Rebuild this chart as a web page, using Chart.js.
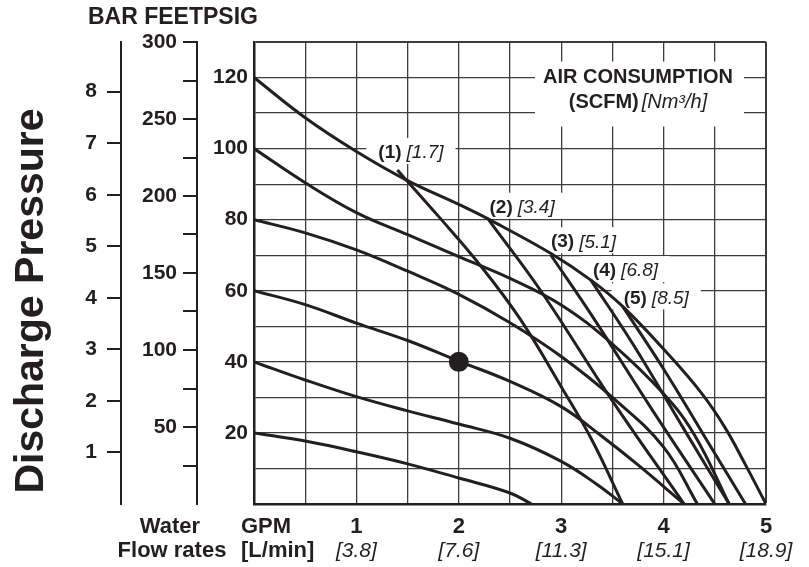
<!DOCTYPE html>
<html>
<head>
<meta charset="utf-8">
<script src="https://cdn.jsdelivr.net/npm/chart.js@4.4.1/dist/chart.umd.min.js"></script>
<style>
  html, body { margin: 0; padding: 0; background: #fff; }
  #wrap { width: 809px; height: 567px; }
</style>
</head>
<body>
<div id="wrap"><canvas id="pump-curve" width="809" height="567"></canvas></div>
<script>
// discharge pressure (PSIG) against water flow (GPM), one curve per air inlet pressure
const head120 = [[0, 120], [0.5, 108.7], [1.0, 99.2], [1.5, 91], [2.0, 84.3], [2.3, 80], [2.9, 70.5], [3.29, 63], [3.6, 55.6], [4.05, 42], [4.37, 31.2], [4.6, 21.5], [4.8, 11], [5.0, 0]]
const head100 = [[0, 100], [0.5, 90.4], [1.0, 82], [1.5, 75.8], [2.0, 69.6], [2.5, 63.5], [3.0, 56], [3.5, 45], [4.0, 31], [4.3, 19.5], [4.64, 0]]
const head80 = [[0, 80], [0.5, 76.3], [1.0, 71.5], [1.5, 65.5], [2.0, 59], [2.5, 51], [3.0, 41.5], [3.5, 30], [4.0, 16], [4.33, 0]]
const head60 = [[0, 60], [0.5, 56.1], [1.0, 50.9], [1.5, 46], [2.0, 40.2], [2.5, 34.5], [3.0, 27.4], [3.4, 19], [3.75, 11], [4.2, 0]]
const head40 = [[0, 40], [0.5, 34.9], [1.0, 30.2], [1.5, 26.2], [2.0, 22.5], [2.5, 18.5], [3.0, 12], [3.35, 5.5], [3.6, 0]]
const head20 = [[0, 20], [0.5, 17.7], [1.0, 14.7], [1.5, 11.3], [2.0, 7.3], [2.5, 3.1], [2.71, 0]]

// constant air consumption lines
const air1 = [[1.40, 94], [1.8, 81], [2.2, 67.5], [2.6, 52], [3.0, 33], [3.3, 18], [3.6, 0]]
const air2 = [[2.29, 80], [2.8, 60], [3.5, 29], [4.2, 0]]
const air3 = [[2.9, 70], [3.3, 53], [3.9, 26], [4.5, 0]]
const air4 = [[3.29, 63], [3.7, 45], [4.2, 21], [4.64, 0]]
const air5 = [[3.6, 55.6], [4.0, 38], [4.4, 19], [4.8, 0]]
const airScfm = ['(1)', '(2)', '(3)', '(4)', '(5)']
const airNm3h = ['[1.7]', '[3.4]', '[5.1]', '[6.8]', '[8.5]']

const examplePoint = [[2, 40]]

const gpmTicks = [1, 2, 3, 4, 5]
const lpmTicks = ['[3.8]', '[7.6]', '[11.3]', '[15.1]', '[18.9]']
const psiTicks = [20, 40, 60, 80, 100, 120]
const feetTicks = [50, 100, 150, 200, 250, 300]
const barTicks = [1, 2, 3, 4, 5, 6, 7, 8]

const ink = '#231f20'
const gridColor = '#3c3c3c'
const sans = '"Liberation Sans", Arial, sans-serif'
const PSI_PER_BAR = 14.5038

const headCurves = [head120, head100, head80, head60, head40, head20]
const airLines = [air1, air2, air3, air4, air5]

const toXY = pts => pts.map(([x, y]) => ({ x, y }))

const curveSet = pts => ({
    data: toXY(pts),
    showLine: true,
    borderColor: ink,
    borderWidth: 3,
    pointRadius: 0,
    tension: 0.4,
})

// where each air label sits relative to the start of its line
const airLabelOffsets = [[-19, -17], [1, -12], [0, -13], [2, -9], [1, -8]]

const runsWidth = (ctx, runs, gap) => {
    let w = 0
    runs.forEach(([text, font], i) => {
        ctx.font = font
        w += ctx.measureText(text).width + (i ? gap : 0)
    })
    return w
}

const drawRuns = (ctx, runs, x, y, gap) => {
    ctx.textAlign = 'left'
    ctx.textBaseline = 'middle'
    runs.forEach(([text, font]) => {
        ctx.font = font
        ctx.fillText(text, x, y)
        x += ctx.measureText(text).width + gap
    })
}

const airRuns = i => [[airScfm[i], 'bold 19px ' + sans], [airNm3h[i], 'italic 19px ' + sans]]
const headingRuns = [['(SCFM)', 'bold 20px ' + sans], ['[Nm³/h]', 'italic 20px ' + sans]]

const labelAt = (chart, i) => {
    const { x, y } = chart.scales
    const start = airLines[i][0]
    return [x.getPixelForValue(start[0]) + airLabelOffsets[i][0], y.getPixelForValue(start[1]) + airLabelOffsets[i][1]]
}

const overlay = {
    id: 'overlay',
    beforeDatasetsDraw(chart) {
        const { ctx, scales: { x, y } } = chart
        ctx.save()
        ctx.fillStyle = '#fff'
        airLines.forEach((line, i) => {
            const [lx, ly] = labelAt(chart, i)
            const w = runsWidth(ctx, airRuns(i), 5)
            ctx.fillRect(lx - 12, ly - 15, w + 24, 26)
        })
        // box behind the air consumption heading
        const cx = x.getPixelForValue(3.75)
        const cy = y.getPixelForValue(120)
        ctx.font = 'bold 20px ' + sans
        const w1 = ctx.measureText('AIR CONSUMPTION').width
        ctx.fillRect(cx - w1 / 2 - 8, cy - 16, w1 + 19, 65)
        ctx.restore()
    },
    afterDatasetsDraw(chart) {
        const { ctx, scales: { x, y } } = chart
        ctx.save()
        ctx.fillStyle = ink
        airLines.forEach((line, i) => {
            const [lx, ly] = labelAt(chart, i)
            drawRuns(ctx, airRuns(i), lx, ly, 5)
        })
        const cx = x.getPixelForValue(3.75)
        const cy = y.getPixelForValue(120)
        ctx.font = 'bold 20px ' + sans
        ctx.textAlign = 'center'
        ctx.textBaseline = 'middle'
        ctx.fillText('AIR CONSUMPTION', cx, cy)
        const w2 = runsWidth(ctx, headingRuns, 3)
        drawRuns(ctx, headingRuns, cx - w2 / 2, cy + 25, 3)
        ctx.restore()
    },
    afterDraw(chart) {
        const { ctx, chartArea } = chart
        const left = chartArea.left
        ctx.save()
        ctx.fillStyle = ink
        ctx.textBaseline = 'middle'

        ctx.font = 'bold 23px ' + sans
        ctx.textAlign = 'left'
        ctx.fillText('BAR FEETPSIG', left - 166, 18)

        ctx.font = 'bold 22px ' + sans
        ctx.textAlign = 'center'
        ctx.fillText('Water', left - 84, 527)
        ctx.fillText('Flow rates', left - 82, 551)
        ctx.textAlign = 'left'
        ctx.fillText('GPM', left - 13, 527)
        ctx.fillText('[L/min]', left - 13, 551)

        ctx.translate(43, 301)
        ctx.rotate(-Math.PI / 2)
        ctx.font = 'bold 41px ' + sans
        ctx.textAlign = 'center'
        ctx.textBaseline = 'alphabetic'
        ctx.fillText('Discharge Pressure', 0, 0)
        ctx.restore()
    },
}

const tickFont = { family: sans, size: 21, weight: 'bold' }

new Chart(document.getElementById('pump-curve'), {
    type: 'scatter',
    data: {
        datasets: [
            ...headCurves.map(curveSet),
            ...airLines.map(curveSet),
            {
                data: toXY(examplePoint),
                showLine: false,
                pointRadius: 10,
                pointBackgroundColor: ink,
                pointBorderWidth: 0,
            },
        ],
    },
    options: {
        responsive: false,
        animation: false,
        layout: { padding: { top: 42, right: 43, bottom: 0, left: 0 } },
        plugins: {
            legend: { display: false },
            tooltip: { enabled: false },
        },
        scales: {
            x: {
                type: 'linear',
                position: 'bottom',
                min: 0,
                max: 5,
                weight: 0,
                afterFit: s => { s.height = 35 },
                ticks: {
                    stepSize: 0.5,
                    autoSkip: false,
                    maxRotation: 0,
                    padding: 10,
                    color: ink,
                    font: { family: sans, size: 22, weight: 'bold' },
                    callback: v => gpmTicks.includes(v) ? String(v) : '',
                },
                grid: {
                    color: gridColor,
                    lineWidth: c => c.tick && c.tick.value === 5 ? 2 : 1.3,
                    drawTicks: false,
                },
                border: { color: ink, width: 2.5 },
            },
            x2: {
                type: 'linear',
                position: 'bottom',
                min: 0,
                max: 5,
                weight: 1,
                afterBuildTicks: s => { s.ticks = gpmTicks.map(v => ({ value: v })) },
                afterFit: s => { s.height = 28 },
                ticks: {
                    autoSkip: false,
                    maxRotation: 0,
                    padding: 0,
                    color: ink,
                    font: { family: sans, size: 21, style: 'italic' },
                    callback: (v, i) => lpmTicks[i],
                },
                grid: { display: false, drawTicks: false },
                border: { display: false },
            },
            y: {
                position: 'left',
                min: 0,
                max: 130,
                weight: 0,
                afterFit: s => { s.width = 57 },
                ticks: {
                    stepSize: 10,
                    autoSkip: false,
                    padding: 6,
                    color: ink,
                    font: tickFont,
                    callback: v => psiTicks.includes(v) ? String(v) : '',
                },
                grid: {
                    color: gridColor,
                    lineWidth: c => c.tick && c.tick.value === 130 ? 2 : 1.3,
                    drawTicks: false,
                },
                border: { color: ink, width: 2.5 },
            },
            yFeet: {
                position: 'left',
                min: 0,
                max: 300,
                weight: 1,
                afterFit: s => { s.width = 76 },
                afterBuildTicks: s => { s.ticks = s.ticks.filter(t => t.value > 0) },
                ticks: {
                    stepSize: 25,
                    autoSkip: false,
                    padding: 6,
                    color: ink,
                    font: tickFont,
                    callback: v => feetTicks.includes(v) ? String(v) : '',
                },
                grid: { drawOnChartArea: false, color: ink, lineWidth: 2, tickLength: 14 },
                border: { color: ink, width: 2 },
            },
            yBar: {
                position: 'left',
                min: 0,
                max: 130 / PSI_PER_BAR,
                weight: 2,
                afterFit: s => { s.width = 121 },
                afterBuildTicks: s => { s.ticks = barTicks.map(v => ({ value: v })) },
                ticks: {
                    autoSkip: false,
                    padding: 10,
                    color: ink,
                    font: tickFont,
                    callback: (v, i) => String(barTicks[i]),
                },
                grid: { drawOnChartArea: false, color: ink, lineWidth: 2, tickLength: 14 },
                border: { color: ink, width: 2 },
            },
        },
    },
    plugins: [overlay],
})
</script>
</body>
</html>
